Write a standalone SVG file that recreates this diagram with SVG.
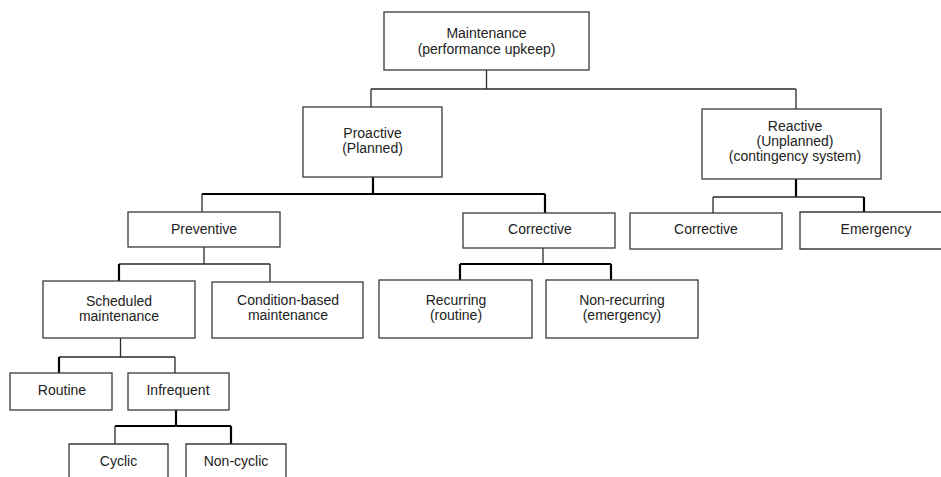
<svg xmlns="http://www.w3.org/2000/svg" width="941" height="477" viewBox="0 0 941 477">
<style>
.box{fill:#fff;stroke:#3a3a3a;stroke-width:1.3}
.t{font-family:"Liberation Sans",Arial,sans-serif;font-size:14px;fill:#222;text-anchor:middle}
.c{fill:none;stroke:#2a2a2a;stroke-width:1.3}
.k{fill:none;stroke:#000;stroke-width:2.2}
</style>
<rect width="941" height="477" fill="#fff"/>
<g id="connectors">
<path class="c" d="M486.5,70 V89 M371,89 H796 M371,89 V107 M796,89 V109"/>
<path class="k" d="M373,177 V194 M202,194 H545 M545,194 V213"/>
<path class="c" d="M202,194 V212"/>
<path class="c" d="M204,247 V264 M119,264 H270 M270,264 V282"/>
<path class="k" d="M119,264 V281"/>
<path class="c" d="M543,248 V264"/>
<path class="k" d="M460,264 H611 M460,264 V280 M611,264 V280"/>
<path class="k" d="M796,179 V197"/>
<path class="c" d="M713,197 H864 M713,197 V213"/>
<path class="k" d="M864,197 V212"/>
<path class="c" d="M120.5,338 V357 M59,357 H175 M175,357 V373"/>
<path class="k" d="M59,357 V373"/>
<path class="k" d="M176,410 V426 M115,426 H231 M231,426 V444"/>
<path class="c" d="M115,426 V444"/>
</g>
<g id="maintenance">
<rect class="box" x="384" y="12" width="205" height="58"/>
<text class="t" x="486.5" y="38">Maintenance</text>
<text class="t" x="486.5" y="54">(performance upkeep)</text>
</g>
<g id="proactive">
<rect class="box" x="303" y="107" width="139" height="70"/>
<text class="t" x="372.5" y="138">Proactive</text>
<text class="t" x="372.5" y="153">(Planned)</text>
</g>
<g id="reactive">
<rect class="box" x="702" y="109" width="179" height="70"/>
<text class="t" x="795" y="131">Reactive</text>
<text class="t" x="795" y="146">(Unplanned)</text>
<text class="t" x="795" y="161">(contingency system)</text>
</g>
<g id="preventive">
<rect class="box" x="128" y="212" width="152" height="35"/>
<text class="t" x="204" y="234">Preventive</text>
</g>
<g id="corrective-planned">
<rect class="box" x="463" y="213" width="152" height="35"/>
<text class="t" x="540" y="234">Corrective</text>
</g>
<g id="corrective-unplanned">
<rect class="box" x="630" y="213" width="152" height="36"/>
<text class="t" x="706" y="234">Corrective</text>
</g>
<g id="emergency">
<path class="box" d="M942,212 H800 V249 H942"/>
<text class="t" x="876" y="234">Emergency</text>
</g>
<g id="scheduled">
<rect class="box" x="43" y="281" width="152" height="57"/>
<text class="t" x="119" y="306">Scheduled</text>
<text class="t" x="119" y="321">maintenance</text>
</g>
<g id="condition-based">
<rect class="box" x="212" y="282" width="151" height="56"/>
<text class="t" x="288" y="305">Condition-based</text>
<text class="t" x="288" y="320">maintenance</text>
</g>
<g id="recurring">
<rect class="box" x="379" y="280" width="153" height="58"/>
<text class="t" x="456" y="305">Recurring</text>
<text class="t" x="456" y="320">(routine)</text>
</g>
<g id="non-recurring">
<rect class="box" x="546" y="280" width="152" height="58"/>
<text class="t" x="622" y="305">Non-recurring</text>
<text class="t" x="622" y="320">(emergency)</text>
</g>
<g id="routine">
<rect class="box" x="10" y="373" width="102" height="37"/>
<text class="t" x="62" y="395">Routine</text>
</g>
<g id="infrequent">
<rect class="box" x="128" y="373" width="101" height="37"/>
<text class="t" x="178" y="395">Infrequent</text>
</g>
<g id="cyclic">
<path class="box" d="M69,478 V444 H168 V478"/>
<text class="t" x="118.5" y="466">Cyclic</text>
</g>
<g id="non-cyclic">
<path class="box" d="M186,478 V444 H286 V478"/>
<text class="t" x="236" y="466">Non-cyclic</text>
</g>
</svg>
